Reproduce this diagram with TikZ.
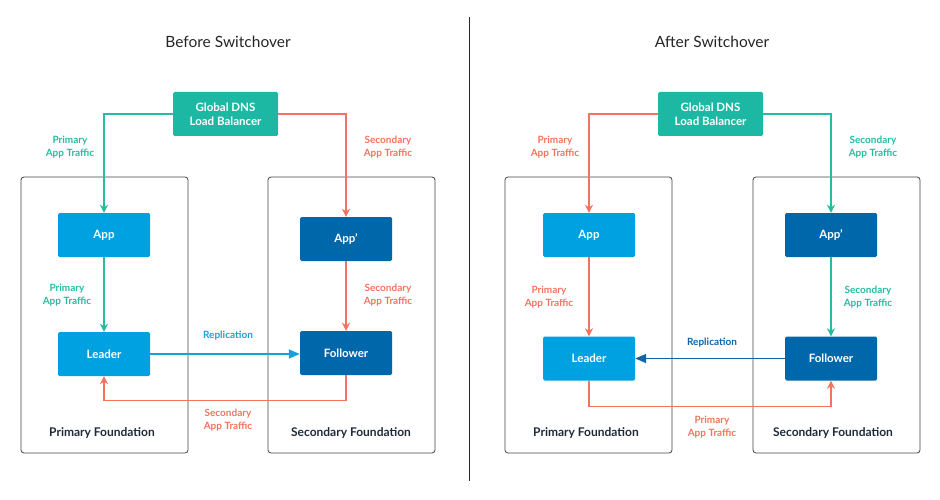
\documentclass[tikz,border=0pt]{standalone}
\usepackage{fontspec}
\setmainfont{Lato}
\usepackage{tikz}
\usetikzlibrary{arrows.meta,positioning,calc}
\definecolor{SwTeal}{HTML}{1DB8A4}
\definecolor{SwTealLine}{HTML}{26BBA2}
\definecolor{SwRed}{HTML}{F4735F}
\definecolor{SwBlue}{HTML}{00A1E0}
\definecolor{SwNavy}{HTML}{0067AB}
\definecolor{SwRepl}{HTML}{1A9FDB}
\definecolor{SwReplDark}{HTML}{0F64A8}
\definecolor{SwInk}{HTML}{1E2A3A}
\definecolor{SwFrame}{HTML}{3F4348}
\tikzset{
  dnsbox/.style={fill=SwTeal,rounded corners=1.5pt,align=center,minimum width=105pt,minimum height=44pt,inner sep=0pt,text=white,font=\fontsize{11.5}{14}\selectfont\bfseries},
  appbox/.style={fill=SwBlue,rounded corners=1.5pt,align=center,minimum width=92pt,minimum height=44pt,inner sep=0pt,text=white,font=\fontsize{11.5}{14}\selectfont\bfseries},
  navybox/.style={appbox,fill=SwNavy},
  fdnbox/.style={draw=SwFrame,rounded corners=3pt,line width=0.8pt,minimum width=167pt,minimum height=276pt,inner sep=0pt},
  fdnlabel/.style={text=SwInk,font=\fontsize{12}{14}\selectfont\bfseries},
  steplabel/.style={align=center,font=\fontsize{10}{12.5}\selectfont\bfseries},
  sidetitle/.style={text=black!85,font=\fontsize{15.5}{18}\selectfont},
  tealarrow/.style={-{Stealth[length=8pt,width=8pt,inset=2.5pt]},line width=1.4pt,draw=SwTealLine},
  redarrow/.style={-{Stealth[length=8pt,width=8pt,inset=2.5pt]},line width=1.4pt,draw=SwRed},
  replarrow/.style={-{Triangle[length=11pt,width=9pt]},line width=1.4pt,draw=SwRepl}
}
\begin{document}
\begin{tikzpicture}[x=1pt,y=-1pt]
\useasboundingbox (0,0) rectangle (940,500);

% divider
\coordinate (divtop) at (469.5,17);
\coordinate (divbot) at (469.5,481);
\draw[line width=1pt,draw=SwInk] (divtop) -- (divbot);

% Before switchover
\node[sidetitle] (titleL) at (228,42) {Before Switchover};
\node[fdnbox] (priL) at (104.5,315) {};
\node[fdnbox] (secL) at (351.5,315) {};
\node[fdnlabel] (priLtxt) at (102,433) {Primary Foundation};
\node[fdnlabel] (secLtxt) at (351,433) {Secondary Foundation};
\node[dnsbox] (dnsL) at (225.5,114) {Global DNS\\Load Balancer};
\node[appbox] (appL) at (104,235) {App};
\node[navybox] (appsL) at (346,239) {App'};
\node[appbox] (leadL) at (104,354) {Leader};
\node[navybox] (follL) at (346,353) {Follower};

\draw[tealarrow] (dnsL.west) -| (appL.north);
\draw[redarrow] (dnsL.east) -| (appsL.north);
\node[steplabel,text=SwTealLine] (trL1) at (70,147) {Primary\\App Traffic};
\node[steplabel,text=SwRed] (trL2) at (388,147) {Secondary\\App Traffic};

\draw[tealarrow] (appL.south) -- (leadL.north);
\draw[redarrow] (appsL.south) -- (follL.north);
\node[steplabel,text=SwTealLine] (trL3) at (67,295) {Primary\\App Traffic};
\node[steplabel,text=SwRed] (trL4) at (388,295) {Secondary\\App Traffic};

\draw[replarrow] (leadL.east) -- (leadL.east -| follL.west);
\node[steplabel,text=SwRepl] (replL) at (228,336) {Replication};
\draw[redarrow] (follL.south) -- ++(0,25) -| (leadL.south);
\node[steplabel,text=SwRed] (trL5) at (228,420) {Secondary\\App Traffic};

% After switchover
\node[sidetitle] (titleR) at (712,42) {After Switchover};
\node[fdnbox] (priR) at (588.5,315) {};
\node[fdnbox] (secR) at (836.5,315) {};
\node[fdnlabel] (priRtxt) at (586,433) {Primary Foundation};
\node[fdnlabel] (secRtxt) at (833,433) {Secondary Foundation};
\node[dnsbox] (dnsR) at (710.5,114) {Global DNS\\Load Balancer};
\node[appbox] (appR) at (589,235) {App};
\node[navybox] (appsR) at (831,235) {App'};
\node[appbox] (leadR) at (589,358.5) {Leader};
\node[navybox] (follR) at (831,358.5) {Follower};

\draw[redarrow] (dnsR.west) -| (appR.north);
\draw[tealarrow] (dnsR.east) -| (appsR.north);
\node[steplabel,text=SwRed] (trR1) at (555,147) {Primary\\App Traffic};
\node[steplabel,text=SwTealLine] (trR2) at (873,147) {Secondary\\App Traffic};

\draw[redarrow] (appR.south) -- (leadR.north);
\draw[tealarrow] (appsR.south) -- (follR.north);
\node[steplabel,text=SwRed] (trR3) at (549,297) {Primary\\App Traffic};
\node[steplabel,text=SwTealLine] (trR4) at (868,297) {Secondary\\App Traffic};

\draw[replarrow,draw=SwReplDark] (follR.west) -- (leadR.east);
\node[steplabel,text=SwReplDark] (replR) at (712,343) {Replication};
\draw[redarrow] (leadR.south) -- ++(0,26) -| (follR.south);
\node[steplabel,text=SwRed] (trR5) at (712,427) {Primary\\App Traffic};
\end{tikzpicture}
\end{document}
